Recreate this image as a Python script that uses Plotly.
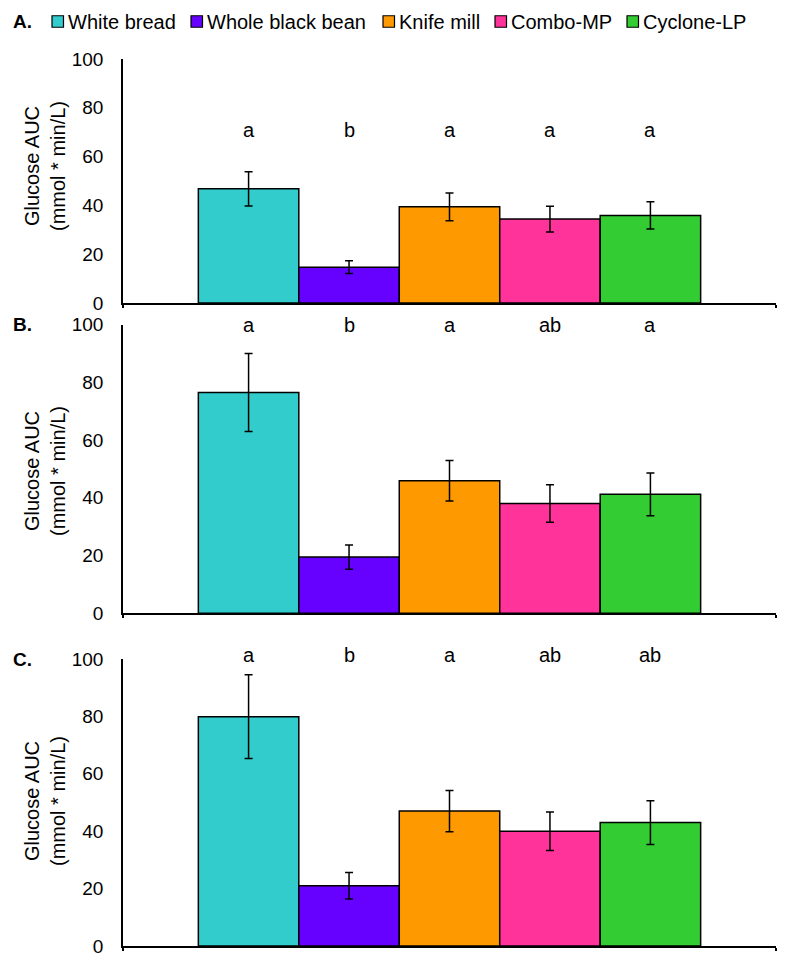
import plotly.graph_objects as go

series = ["White bread", "Whole black bean", "Knife mill", "Combo-MP", "Cyclone-LP"]
colors = ["#33CCCC", "#6600FF", "#FF9900", "#FF3399", "#33CC33"]
panels = ["A.", "B.", "C."]

means_A = [46.8, 14.7, 39.4, 34.4, 35.9]
errs_A = [7.0, 2.6, 5.7, 5.3, 5.6]
means_B = [76.5, 19.5, 45.9, 38.0, 41.2]
errs_B = [13.5, 4.2, 7.0, 6.5, 7.4]
means_C = [79.9, 21.0, 47.0, 40.0, 43.0]
errs_C = [14.6, 4.6, 7.2, 6.7, 7.6]

letters_A = ["a", "b", "a", "a", "a"]
letters_B = ["a", "b", "a", "ab", "a"]
letters_C = ["a", "b", "a", "ab", "ab"]

y_ticks = [0, 20, 40, 60, 80, 100]
y_title = "Glucose AUC<br>(mmol * min/L)"

means = [means_A, means_B, means_C]
errs = [errs_A, errs_B, errs_C]
letters = [letters_A, letters_B, letters_C]
letter_y = [71, 100, 100]
letter_shift = [0, 0, 4]

# page is 792x969; the browser body has an 8px margin, so the figure is offset
OFF = 8
PAGE_W, PAGE_H = 792, 969
W, H = PAGE_W - OFF, PAGE_H - OFF
FONT = "Arial, Liberation Sans, sans-serif"


def px2x(px):
    return (px - OFF) / W


def py2y(py):
    return (PAGE_H - py) / H


x_dom = [px2x(123), px2x(776)]
y_px = [(59, 303), (324.6, 613.3), (659, 946)]
y_doms = [[py2y(b), py2y(t)] for t, b in y_px]
title_cy = [166, 471, 801]
title_cx = 45

# legend layout (page pixels)
legend_swatch_px = [52, 191, 383, 495, 627]
legend_cy = 21.5
sw = 11.5

fig = go.Figure()
layout = dict(
    width=W, height=H,
    margin=dict(l=0, r=0, t=0, b=0),
    paper_bgcolor="white", plot_bgcolor="white",
    font=dict(family=FONT, size=19, color="black"),
    barmode="overlay",
    showlegend=False,
)
annotations = []
shapes = []

for p in range(3):
    xa = "x" if p == 0 else f"x{p+1}"
    ya = "y" if p == 0 else f"y{p+1}"
    for i, s in enumerate(series):
        fig.add_trace(go.Bar(
            x=[i], y=[means[p][i]], width=1, name=s,
            marker=dict(color=colors[i], line=dict(color="black", width=1.5)),
            error_y=dict(type="data", array=[errs[p][i]], color="black", thickness=1.5, width=4),
            xaxis=xa, yaxis=ya, legendgroup=s, showlegend=False,
        ))
        annotations.append(dict(x=i, y=letter_y[p], xref=xa, yref=ya, text=letters[p][i],
                                showarrow=False, font=dict(size=20), yanchor="middle",
                                yshift=letter_shift[p]))
    xkey = "xaxis" if p == 0 else f"xaxis{p+1}"
    ykey = "yaxis" if p == 0 else f"yaxis{p+1}"
    layout[xkey] = dict(domain=x_dom, anchor=ya, range=[-1.25, 5.25], showgrid=False,
                        zeroline=False, showline=True, linecolor="black", linewidth=1.5,
                        tickmode="array", tickvals=[-1.25, 5.25], ticktext=["", ""],
                        ticks="outside", ticklen=3, tickcolor="black", tickwidth=1.5,
                        fixedrange=True)
    layout[ykey] = dict(domain=y_doms[p], anchor=xa, range=[0, 100], showgrid=False,
                        zeroline=False, showline=True, linecolor="black", linewidth=1.5,
                        tickmode="array", tickvals=y_ticks, ticks="",
                        ticklabelstandoff=14, tickfont=dict(size=19),
                        automargin=False, fixedrange=True)
    # y-axis title
    annotations.append(dict(x=px2x(title_cx), y=py2y(title_cy[p]), xref="paper", yref="paper",
                            text=y_title, showarrow=False, textangle=-90, align="center",
                            xanchor="center", yanchor="middle", font=dict(size=20)))
    t, b = y_px[p]
    annotations.append(dict(x=px2x(11), y=py2y(22 if p == 0 else t), xref="paper", yref="paper",
                            text=f"<b>{panels[p]}</b>", showarrow=False, xanchor="left",
                            yanchor="middle", font=dict(size=19)))

# legend drawn as swatches + text
for i, s in enumerate(series):
    x0 = legend_swatch_px[i]
    shapes.append(dict(type="rect", xref="paper", yref="paper",
                       x0=px2x(x0), x1=px2x(x0 + sw),
                       y0=py2y(legend_cy + sw / 2), y1=py2y(legend_cy - sw / 2),
                       fillcolor=colors[i], line=dict(color="black", width=1.2)))
    annotations.append(dict(x=px2x(x0 + sw + 2), y=py2y(legend_cy), xref="paper", yref="paper",
                            text=s, showarrow=False, xanchor="left", yanchor="middle",
                            font=dict(size=20)))

layout["annotations"] = annotations
layout["shapes"] = shapes
fig.update_layout(**layout)
fig.write_html("out.html")
